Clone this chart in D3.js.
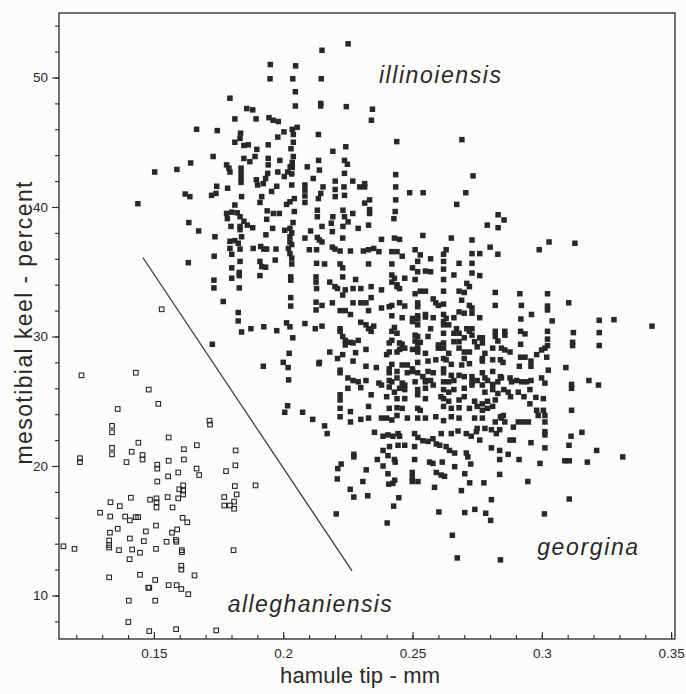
<!DOCTYPE html>
<html>
<head>
<meta charset="utf-8">
<script src="https://cdn.jsdelivr.net/npm/d3@7"></script>
<style>
  body { margin: 0; background: #fcfcfb; }
  svg { display: block; font-family: "Liberation Sans", Arial, sans-serif; }
</style>
</head>
<body>
<svg id="chart" width="686" height="694"></svg>
<script>
// hamule tip (mm) vs mesotibial keel (%)
const alleghaniensis = [
  [0.122,27.0],[0.143,27.2],[0.148,25.9],[0.1517,24.8],[0.136,24.4],[0.1715,23.5],[0.1717,23.2],[0.1338,23.1],[0.1338,22.6],
  [0.144,21.8],[0.1557,22.2],[0.1338,21.4],[0.1338,20.9],[0.1414,21.1],[0.1456,20.85],[0.1456,20.5],[0.1394,20.3],[0.1214,20.6],
  [0.1214,20.3],[0.1513,20.1],[0.1513,19.8],[0.1616,21.3],[0.1666,21.6],[0.1557,20.4],[0.1616,20.5],[0.1594,19.5],[0.1513,18.8],
  [0.1555,19.2],[0.1665,19.8],[0.1675,19.3],[0.1779,19.6],[0.1816,21.2],[0.1815,20.05],[0.1613,18.5],[0.1613,18.1],[0.1613,17.8],
  [0.1598,18.2],[0.1594,17.5],[0.1813,18.45],[0.182,17.8],[0.1893,18.5],[0.1772,17.6],[0.181,17.25],[0.1794,16.95],[0.1772,16.95],
  [0.181,16.7],[0.1411,17.55],[0.1485,17.4],[0.151,17.5],[0.151,17.2],[0.151,16.8],[0.1553,17.6],[0.1572,16.8],[0.1332,17.2],
  [0.1368,16.9],[0.1292,16.4],[0.1331,16.1],[0.1389,16.1],[0.1407,15.8],[0.143,16.05],[0.1439,16.05],[0.1611,16.0],[0.1629,15.65],
  [0.1508,15.4],[0.159,15.1],[0.157,14.85],[0.136,15.15],[0.1469,14.95],[0.133,14.85],[0.1407,14.4],[0.1461,14.2],[0.1549,14.15],
  [0.1585,14.3],[0.1587,14.15],[0.1327,14.25],[0.1327,13.9],[0.1327,13.7],[0.115,13.8],[0.1193,13.6],[0.1365,13.5],[0.1416,13.55],
  [0.1446,13.3],[0.1508,13.6],[0.1608,13.5],[0.1608,13.35],[0.1808,13.5],[0.1406,12.8],[0.1606,12.3],[0.1606,12.0],[0.1657,11.55],
  [0.1327,11.4],[0.1446,11.6],[0.1478,10.6],[0.1482,10.6],[0.1505,11.2],[0.1557,10.8],[0.1588,10.8],[0.1606,10.5],[0.1633,10.1],
  [0.1403,9.6],[0.1505,9.6],[0.1401,7.95],[0.1482,7.25],[0.1586,7.4],[0.1741,7.3],[0.153,32.1]
];

const illinoiensis = [
  [0.195,51.0],[0.2048,50.9],[0.1949,49.9],[0.2037,49.9],[0.2047,48.9],[0.2047,47.8],[0.1794,48.4],[0.1859,47.6],[0.1882,47.5],
  [0.1813,46.8],[0.1895,46.8],[0.1945,46.9],[0.1961,46.7],[0.1981,46.6],[0.1665,46.0],[0.1745,45.9],[0.1835,45.7],[0.2035,46.0],
  [0.2054,46.15],[0.2003,45.8],[0.1979,45.4],[0.2039,45.6],[0.2136,45.6],[0.1813,45.0],[0.1833,45.3],[0.1848,44.75],[0.1865,44.8],
  [0.1942,44.8],[0.2039,45.0],[0.1898,44.45],[0.203,44.5],[0.1729,43.9],[0.1848,43.75],[0.1871,43.5],[0.1891,43.9],[0.1942,43.75],
  [0.1942,43.25],[0.1987,43.6],[0.2039,43.9],[0.2035,43.45],[0.2035,43.05],[0.2137,43.6],[0.1642,43.4],[0.1503,42.7],[0.1589,42.9],
  [0.1781,43.25],[0.179,43.0],[0.1794,42.7],[0.1837,43.0],[0.1837,42.6],[0.1837,42.2],[0.1837,41.9],[0.194,42.6],[0.1979,42.7],
  [0.2017,42.7],[0.2027,43.1],[0.2033,42.55],[0.2093,43.1],[0.1896,42.1],[0.1932,42.2],[0.1923,41.8],[0.2004,42.35],[0.2116,42.2],
  [0.1743,41.6],[0.174,41.05],[0.1723,40.9],[0.1785,41.45],[0.1839,40.8],[0.1901,41.7],[0.1975,41.6],[0.1955,41.2],[0.2033,41.7],
  [0.2084,41.7],[0.2084,41.3],[0.2084,40.85],[0.2084,40.35],[0.1621,41.0],[0.1639,40.8],[0.1438,40.25],[0.1917,40.8],[0.191,40.35],
  [0.2013,40.2],[0.2026,40.4],[0.2043,40.65],[0.2043,39.65],[0.2136,40.65],[0.2132,39.75],[0.2132,39.25],[0.1781,39.5],[0.1784,39.1],
  [0.1801,39.6],[0.1813,40.15],[0.1822,39.55],[0.1833,39.25],[0.1848,38.9],[0.1861,38.6],[0.1938,39.7],[0.1962,39.5],[0.1985,39.5],
  [0.2038,38.8],[0.1635,38.8],[0.1936,39.05],
  [0.2251,52.6],[0.215,52.1],[0.2147,49.9],[0.2145,48.0],[0.2145,47.8],[0.2244,47.75],[0.2345,47.55],[0.2341,46.7],[0.2439,45.05],
  [0.2691,45.2],[0.2242,44.65],[0.2192,44.3],[0.214,42.85],[0.2237,43.6],[0.2248,43.3],[0.2435,42.5],[0.2734,42.4],[0.2237,42.6],
  [0.2269,42.0],[0.2201,42.0],[0.2154,41.55],[0.2145,41.05],[0.2201,41.35],[0.2201,40.8],[0.2235,41.55],[0.2237,40.9],[0.2296,41.55],
  [0.2315,41.8],[0.2315,41.55],[0.2435,41.55],[0.2435,40.55],[0.2489,41.1],[0.2541,41.1],[0.2706,41.1],[0.2671,40.2],[0.2231,39.75],
  [0.2237,39.25],[0.2251,38.85],[0.2231,38.5],[0.2269,39.5],[0.2315,40.3],[0.2334,40.55],[0.2334,39.8],[0.2334,39.5],[0.2192,39.25],
  [0.2186,38.75],[0.233,38.6],[0.2433,39.65],[0.2428,39.1],[0.2831,39.4],[0.2854,39.0],[0.2789,38.6],[0.2831,38.4],
  [0.1673,38.15],[0.1736,37.7],[0.1798,38.5],[0.1833,38.5],[0.1833,38.25],[0.1839,37.7],[0.1882,38.4],[0.1933,37.85],[0.1959,38.35],
  [0.2006,38.2],[0.2026,38.35],[0.2033,38.0],[0.2026,37.7],[0.2026,37.3],[0.2033,37.1],[0.202,36.8],[0.2026,36.4],[0.2033,36.05],
  [0.2033,35.6],[0.2084,37.6],[0.2106,38.15],[0.2132,37.65],[0.1794,37.35],[0.1813,37.4],[0.1826,37.2],[0.1794,36.8],[0.1801,36.35],
  [0.1833,36.75],[0.1884,36.8],[0.1913,36.95],[0.1925,36.75],[0.1936,36.75],[0.1972,36.75],[0.2101,36.7],[0.2129,36.7],[0.1733,36.2],
  [0.1633,35.7],[0.1833,35.8],[0.191,35.8],[0.1917,35.4],[0.1932,35.35],[0.1969,35.9],[0.2129,35.65],[0.1801,35.3],[0.183,34.95],
  [0.183,34.7],[0.191,34.7],[0.2029,34.6],[0.2029,34.35],[0.2127,34.6],[0.2127,34.2],[0.2129,33.7],[0.1801,34.5],[0.1732,34.35],
  [0.1732,33.75],[0.183,33.75],[0.1768,32.7],[0.2029,33.0],[0.2029,32.35],[0.2127,32.65],[0.2127,32.05],[0.1826,31.85],[0.1826,31.2],
  [0.2013,31.05],[0.2026,30.75],[0.2084,31.0],[0.1839,30.35],[0.1875,30.6],[0.1925,30.75],[0.1975,30.45],[0.2124,30.6],[0.2037,29.9],
  [0.1726,29.4],[0.2023,28.7],[0.2,28.0],[0.2019,27.6],[0.1923,27.7],[0.2138,27.9],[0.2021,26.65],[0.2017,24.65],[0.2006,24.15],
  [0.2075,24.15],[0.2114,23.6]
];

const georgina = [
  [0.215,38.5],[0.219,38.1],[0.229,38.35],[0.214,37.45],[0.215,37.3],[0.223,37.6],[0.238,37.5],[0.243,37.6],[0.245,37.5],
  [0.254,37.8],[0.265,37.6],[0.273,37.45],[0.219,36.9],[0.220,36.75],[0.222,36.6],[0.226,36.6],[0.231,36.6],[0.233,36.7],
  [0.235,36.8],[0.237,36.55],[0.242,36.55],[0.244,36.55],[0.251,36.7],[0.253,36.3],[0.263,36.7],[0.262,36.35],[0.273,36.4],
  [0.276,36.4],[0.280,36.9],[0.283,36.35],[0.257,36.0],[0.246,36.2],[0.252,35.8],[0.262,35.8],[0.268,35.65],[0.273,35.65],
  [0.216,35.6],[0.222,35.6],[0.223,35.3],[0.233,35.6],[0.242,35.6],[0.250,35.3],[0.252,35.0],[0.255,35.05],[0.257,35.0],
  [0.262,35.2],[0.266,34.75],[0.273,34.9],[0.276,34.7],[0.242,34.75],[0.243,34.5],[0.223,34.6],[0.228,34.4],[0.218,34.2],
  [0.220,33.85],[0.221,33.7],[0.224,33.6],[0.223,33.2],[0.227,33.7],[0.230,33.7],[0.234,33.85],[0.242,34.2],[0.244,34.0],
  [0.245,33.7],[0.247,34.5],[0.251,34.4],[0.262,34.4],[0.271,34.1],[0.272,33.85],[0.238,33.6],[0.244,33.85],[0.251,33.3],
  [0.253,33.5],[0.255,33.5],[0.262,33.5],[0.268,33.5],[0.270,33.4],[0.282,33.4],[0.215,32.4],[0.219,32.6],[0.227,32.6],
  [0.230,32.6],[0.232,32.6],[0.234,33.0],[0.238,32.2],[0.241,32.3],[0.242,32.4],[0.245,32.6],[0.247,32.35],[0.252,32.6],
  [0.252,32.3],[0.258,32.9],[0.259,32.6],[0.260,32.4],[0.262,32.5],[0.269,32.8],[0.272,32.4],[0.273,32.2],[0.282,32.4],
  [0.222,32.0],[0.224,32.0],[0.226,31.7],[0.233,32.0],[0.242,31.6],[0.246,31.45],[0.250,31.4],[0.252,31.6],[0.255,31.7],
  [0.255,31.5],[0.258,31.45],[0.262,31.7],[0.263,31.4],[0.266,31.45],[0.268,31.9],[0.270,31.8],[0.273,31.8],[0.276,31.45],
  [0.215,30.8],[0.222,30.6],[0.230,31.1],[0.232,30.9],[0.233,30.6],[0.235,30.8],[0.243,30.7],[0.250,31.15],[0.252,31.35],
  [0.252,30.9],[0.257,30.6],[0.262,31.15],[0.262,30.9],[0.264,30.9],[0.267,30.6],[0.271,30.6],[0.273,30.6],[0.282,30.4],
  [0.222,30.4],[0.223,30.0],[0.224,29.7],[0.226,29.55],[0.234,30.4],[0.242,30.4],[0.244,30.25],[0.251,30.1],[0.252,30.0],
  [0.256,30.0],[0.262,30.25],[0.266,30.25],[0.268,30.25],[0.272,30.4],[0.273,30.1],[0.276,29.9],[0.282,30.0],[0.227,29.5],
  [0.229,29.7],[0.224,29.35],[0.241,29.5],[0.242,29.7],[0.245,29.5],[0.246,29.4],[0.251,29.65],[0.252,29.5],[0.253,29.55],
  [0.260,29.35],[0.262,29.5],[0.266,29.6],[0.268,29.6],[0.270,29.9],[0.274,29.6],[0.277,29.9],[0.277,29.5],[0.283,29.65],
  [0.218,28.8],[0.223,28.6],[0.228,28.75],[0.232,29.0],[0.240,28.6],[0.241,28.8],[0.244,28.8],[0.245,29.0],[0.247,29.1],
  [0.250,29.0],[0.252,29.1],[0.252,28.8],[0.255,28.7],[0.260,29.1],[0.262,29.1],[0.264,28.7],[0.268,29.1],[0.270,28.8],
  [0.272,28.8],[0.275,29.2],[0.278,28.7],[0.281,29.1],[0.214,28.0],[0.221,28.3],[0.227,28.1],[0.232,27.7],[0.236,27.6],
  [0.241,27.5],[0.242,27.85],[0.246,27.8],[0.248,27.8],[0.250,27.5],[0.252,28.0],[0.256,28.1],[0.259,28.2],[0.262,28.3],
  [0.263,28.2],[0.265,27.85],[0.269,27.8],[0.270,28.3],[0.272,27.9],[0.277,28.3],[0.277,28.1],[0.281,28.2],[0.284,28.2],
  [0.222,27.4],[0.222,27.2],[0.225,26.8],[0.227,26.6],[0.229,26.5],[0.232,26.6],[0.237,26.4],[0.241,27.2],[0.241,26.6],
  [0.244,27.3],[0.244,26.8],[0.248,27.2],[0.250,27.3],[0.252,27.2],[0.254,26.9],[0.255,26.6],[0.256,27.3],[0.258,27.2],
  [0.262,27.5],[0.262,27.2],[0.265,27.0],[0.268,27.0],[0.270,26.9],[0.273,26.9],[0.277,27.2],[0.278,26.8],[0.281,27.3],
  [0.284,26.9],[0.242,26.5],[0.246,26.4],[0.247,26.25],[0.251,26.5],[0.255,26.5],[0.257,26.6],[0.262,26.5],[0.264,26.5],
  [0.266,26.6],[0.273,26.5],[0.275,26.6],[0.279,26.6],[0.281,26.3],[0.283,26.5],[0.225,26.0],[0.230,26.05],[0.238,26.25],
  [0.241,26.1],[0.243,25.7],[0.245,26.0],[0.247,25.9],[0.252,25.9],[0.255,26.0],[0.258,26.25],[0.262,25.9],[0.264,25.7],
  [0.266,25.9],[0.270,26.0],[0.273,26.25],[0.277,26.25],[0.278,25.7],[0.281,25.9],[0.283,25.6],[0.222,25.5],[0.222,25.1],
  [0.234,25.5],[0.240,25.35],[0.244,25.2],[0.247,25.2],[0.252,25.5],[0.255,25.2],[0.261,25.35],[0.262,25.2],[0.264,25.0],
  [0.268,25.1],[0.270,25.35],[0.274,25.0],[0.277,24.8],[0.279,25.0],[0.282,25.1],[0.222,24.45],[0.226,24.2],[0.233,24.6],
  [0.241,24.45],[0.244,24.5],[0.246,24.45],[0.252,24.45],[0.253,24.3],[0.262,24.6],[0.265,24.45],[0.268,24.5],[0.272,24.45],
  [0.275,24.6],[0.277,24.3],[0.279,24.45],[0.281,24.6],[0.222,23.8],[0.226,23.4],[0.230,23.6],[0.233,23.7],[0.238,23.7],
  [0.240,23.7],[0.242,23.55],[0.244,23.9],[0.248,23.7],[0.252,23.7],[0.255,23.7],[0.259,23.8],[0.262,23.5],[0.265,23.8],
  [0.268,23.7],[0.274,23.7],[0.277,23.7],[0.282,23.4],[0.284,23.8],
  [0.217,22.5],[0.2353,22.6],[0.2386,22.3],[0.2405,22.4],[0.2424,22.3],[0.2444,22.5],[0.245,22.3],[0.2508,22.5],[0.2521,22.2],
  [0.254,21.95],[0.256,21.9],[0.2579,22.1],[0.2611,22.5],[0.265,22.5],[0.2676,22.7],[0.2708,22.5],[0.2727,22.3],[0.2747,22.65],
  [0.278,22.9],[0.2805,22.8],[0.2824,22.5],[0.2837,22.8],[0.2386,21.2],[0.2411,21.5],[0.2444,21.6],[0.247,21.6],[0.2508,21.5],
  [0.2592,21.7],[0.2605,21.6],[0.263,21.5],[0.2643,21.2],[0.2663,21.0],[0.2708,21.0],[0.2714,20.7],[0.276,22.0],[0.2805,21.4],
  [0.2837,21.2],[0.2273,20.9],[0.2273,20.7],[0.2405,20.8],[0.243,20.5],[0.2433,20.3],[0.2364,20.5],[0.2386,20.0],[0.2508,20.5],
  [0.2566,20.3],[0.2579,20.2],[0.2615,20.3],[0.2663,19.95],[0.2725,20.15],[0.2837,20.5],[0.2224,20.15],[0.2211,19.8],[0.2321,19.7],
  [0.2405,19.4],[0.2499,19.5],[0.2499,19.1],[0.2499,18.8],[0.2521,18.8],[0.2592,19.5],[0.2611,19.3],[0.2624,19.2],[0.2702,19.4],
  [0.2837,19.35],[0.2209,19.0],[0.2308,18.8],[0.2408,18.6],[0.2431,18.9],[0.2424,18.66],[0.2585,18.35],[0.2721,18.7],[0.2776,18.7],
  [0.2259,18.2],[0.2273,17.6],[0.2327,17.7],[0.2447,17.55],[0.2689,18.1],[0.2805,17.4],[0.2205,16.3],[0.2427,16.9],[0.2602,16.45],
  [0.2702,16.4],[0.2741,16.65],[0.2783,16.35],[0.2802,15.8],[0.2402,15.6],[0.2654,14.65],[0.2673,12.9],[0.284,12.75],[0.216,23.1],
  [0.275,22.9],
  [0.3028,37.3],[0.3128,37.2],[0.299,36.7],[0.2915,33.3],[0.3022,33.3],[0.3104,32.6],[0.2921,32.4],[0.3022,32.35],[0.3022,32.05],
  [0.296,31.7],[0.2919,31.35],[0.304,31.2],[0.3222,31.25],[0.3279,31.3],[0.3426,30.8],[0.2857,30.4],[0.2857,30.1],[0.2918,30.4],
  [0.2935,30.2],[0.3022,30.4],[0.3122,30.3],[0.3222,30.3],[0.3022,29.8],[0.3022,29.3],[0.2918,29.4],[0.3119,29.55],[0.3119,29.3],
  [0.3222,29.3],[0.2844,29.1],[0.2877,28.8],[0.2857,28.96],[0.2999,28.96],[0.3012,29.1],[0.298,28.6],[0.2918,28.4],[0.2935,28.4],
  [0.3019,28.4],[0.2958,28.1],[0.2958,27.7],[0.285,28.0],[0.2913,27.7],[0.3025,27.4],[0.3093,27.6],[0.2844,26.8],[0.2877,26.8],
  [0.2883,26.5],[0.2903,26.6],[0.2922,26.5],[0.2941,26.5],[0.2958,26.6],[0.2999,26.8],[0.3012,26.4],[0.3182,26.6],[0.3219,26.25],
  [0.3115,26.3],[0.3115,26.0],[0.2853,25.9],[0.287,25.7],[0.2879,25.35],[0.2909,25.7],[0.2931,25.35],[0.2954,25.9],[0.2977,25.3],
  [0.3006,25.2],[0.2954,24.8],[0.298,24.3],[0.3006,24.3],[0.3012,23.9],[0.2986,23.9],[0.3115,24.3],[0.2851,23.9],[0.2844,23.7],
  [0.2909,23.4],[0.2928,23.4],[0.2948,23.4],[0.3012,23.4],[0.2857,23.4],
  [0.289,23.0],[0.3012,22.65],[0.3012,22.4],[0.3113,22.3],[0.3155,22.6],[0.2877,22.0],[0.289,22.0],[0.2958,21.8],[0.3012,21.4],
  [0.3105,21.6],[0.287,20.9],[0.3212,21.2],[0.3313,20.7],[0.2912,20.5],[0.2993,20.2],[0.3089,20.4],[0.3106,20.4],[0.3176,20.3],
  [0.2946,18.8],[0.3106,17.45],[0.301,16.3]
];

// hand-drawn separating line
const dividerX = [0.1457, 0.2266];
const dividerY = [36.1, 11.9];

const xTickValues = [0.15, 0.2, 0.25, 0.3, 0.35];
const yTickValues = [10, 20, 30, 40, 50];
const speciesNames = ["illinoiensis", "georgina", "alleghaniensis"];

const ink = "#282828";
const svg = d3.select("#chart");

const x = d3.scaleLinear().domain([0.1133, 0.3515]).range([59, 675]);
const y = d3.scaleLinear().domain([6.64, 54.98]).range([639, 13]);

const [plotLeft, plotRight] = x.range();
const [plotBottom, plotTop] = y.range();

// frame
svg.append("rect")
    .attr("x", plotLeft).attr("y", plotTop)
    .attr("width", plotRight - plotLeft).attr("height", plotBottom - plotTop)
    .attr("fill", "none")
    .attr("stroke", ink)
    .attr("stroke-width", 1.3);

function styleAxis(g) {
    g.select(".domain").remove();
    g.selectAll(".tick line").attr("stroke", ink).attr("stroke-width", 1.1);
    g.selectAll(".tick text").attr("fill", ink).attr("font-size", 13.5)
        .attr("font-family", "'Liberation Sans', Arial, sans-serif");
}

// x axis: minor ticks every 0.01, labelled majors
svg.append("g")
    .attr("transform", `translate(0,${plotBottom})`)
    .call(d3.axisBottom(x).tickValues(d3.range(0.12, 0.351, 0.01)).tickSize(-4).tickFormat(""))
    .call(styleAxis);
svg.append("g")
    .attr("transform", `translate(0,${plotBottom})`)
    .call(d3.axisBottom(x).tickValues(xTickValues).tickSize(-7).tickPadding(9).tickFormat(d => String(d)))
    .call(styleAxis);

// y axis: minor ticks every 2
svg.append("g")
    .attr("transform", `translate(${plotLeft},0)`)
    .call(d3.axisLeft(y).tickValues(d3.range(8, 55, 2)).tickSize(4).tickFormat(""))
    .call(styleAxis);
svg.append("g")
    .attr("transform", `translate(${plotLeft},0)`)
    .call(d3.axisLeft(y).tickValues(yTickValues).tickSize(7).tickPadding(4))
    .call(styleAxis);

// axis titles
svg.append("text")
    .attr("x", 360).attr("y", 683)
    .attr("text-anchor", "middle")
    .attr("font-size", 22)
    .attr("fill", ink)
    .attr("textLength", 160)
    .text("hamule tip - mm");

svg.append("text")
    .attr("transform", "translate(32,323) rotate(-90)")
    .attr("text-anchor", "middle")
    .attr("font-size", 23)
    .attr("fill", ink)
    .attr("textLength", 283)
    .text("mesotibial keel - percent");

// separating line
svg.append("line")
    .attr("x1", x(dividerX[0])).attr("y1", y(dividerY[0]))
    .attr("x2", x(dividerX[1])).attr("y2", y(dividerY[1]))
    .attr("stroke", "#3a3a3a")
    .attr("stroke-width", 1.3);

// filled squares
svg.append("g")
    .selectAll("rect")
    .data(illinoiensis.concat(georgina))
    .join("rect")
    .attr("x", d => x(d[0]) - 2.75)
    .attr("y", d => y(d[1]) - 2.75)
    .attr("width", 5.5)
    .attr("height", 5.5)
    .attr("fill", ink);

// open squares
svg.append("g")
    .selectAll("rect")
    .data(alleghaniensis)
    .join("rect")
    .attr("x", d => x(d[0]) - 2.3)
    .attr("y", d => y(d[1]) - 2.3)
    .attr("width", 4.6)
    .attr("height", 4.6)
    .attr("fill", "none")
    .attr("stroke", ink)
    .attr("stroke-width", 1.1);

// species names
const labelSpots = [[0.237, 49.6, 122], [0.2982, 13.1, 101], [0.1786, 8.73, 164]];
svg.append("g")
    .selectAll("text")
    .data(speciesNames)
    .join("text")
    .attr("x", (d, i) => x(labelSpots[i][0]))
    .attr("y", (d, i) => y(labelSpots[i][1]))
    .attr("textLength", (d, i) => labelSpots[i][2])
    .attr("font-size", 23)
    .attr("font-style", "italic")
    .attr("fill", ink)
    .text(d => d);
</script>
</body>
</html>
